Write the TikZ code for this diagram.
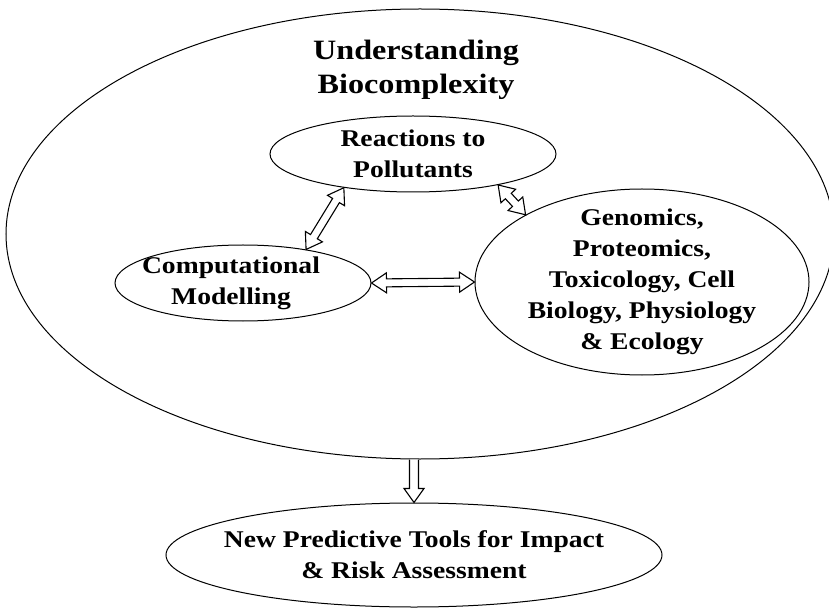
\documentclass[tikz,border=0pt]{standalone}
\usepackage{fontspec}
\setmainfont{Liberation Serif}[FakeStretch=1.15]
\usetikzlibrary{shapes.geometric,calc}
\tikzset{
  ell/.style={draw, ellipse, inner sep=-20pt, line width=1pt},
  lbl/.style={align=center, font=\fontsize{24}{31}\selectfont\bfseries},
  ttl/.style={align=center, font=\fontsize{28}{34}\selectfont\bfseries},
  blockarrow/.style={draw, line width=1.1pt, fill=white, line join=miter}
}
% hollow double-headed block arrow between two points
\newcommand\dblarrow[2]{%
  \path ($(#1)!15pt!(#2)$) coordinate (p1) ($(#2)!15pt!(#1)$) coordinate (p2);
  \draw[blockarrow] (#1) -- ($(p1)!10pt!90:(#2)$) -- ($(p1)!4pt!90:(#2)$)
    -- ($(p2)!4pt!-90:(#1)$) -- ($(p2)!10pt!-90:(#1)$) -- (#2)
    -- ($(p2)!10pt!90:(#1)$) -- ($(p2)!4pt!90:(#1)$)
    -- ($(p1)!4pt!-90:(#2)$) -- ($(p1)!10pt!-90:(#2)$) -- cycle;}
% hollow single-headed block arrow, open at its start
\newcommand\sglarrow[2]{%
  \path ($(#2)!14pt!(#1)$) coordinate (q2);
  \draw[blockarrow] ($(#1)!4.5pt!90:(#2)$) -- ($(q2)!4.5pt!-90:(#1)$)
    -- ($(q2)!10pt!-90:(#1)$) -- (#2) -- ($(q2)!10pt!90:(#1)$)
    -- ($(q2)!4.5pt!90:(#1)$) -- ($(#1)!4.5pt!-90:(#2)$);}
\begin{document}
\begin{tikzpicture}[x=1pt,y=-1pt]
\useasboundingbox (0,0) rectangle (829,609);
\node[ell, minimum width=828pt, minimum height=450pt] (big) at (420,234) {};
\node[ttl] (title) at (416,70) {Understanding\\Biocomplexity};
\node[ell, lbl, minimum width=286pt, minimum height=76pt] (react) at (413,154) {Reactions to\\Pollutants};
\node[ell, minimum width=256pt, minimum height=76pt] (comp) at (243,283) {};
\node[lbl] (compt) at (231,283) {Computational\\Modelling};
\node[ell, lbl, minimum width=334pt, minimum height=186pt] (gen) at (642,282)
  {Genomics,\\Proteomics,\\Toxicology, Cell\\Biology, Physiology\\\& Ecology};
\node[ell, lbl, minimum width=496pt, minimum height=104pt] (bot) at (414,555)
  {New Predictive Tools for Impact\\\& Risk Assessment};
\dblarrow{react.206.9}{comp.28.8}
\dblarrow{react.340.1}{gen.150.3}
\dblarrow{comp.east}{gen.west}
\coordinate (dtop) at (big.south -| bot.north);
\sglarrow{dtop}{bot.north}
\end{tikzpicture}
\end{document}
